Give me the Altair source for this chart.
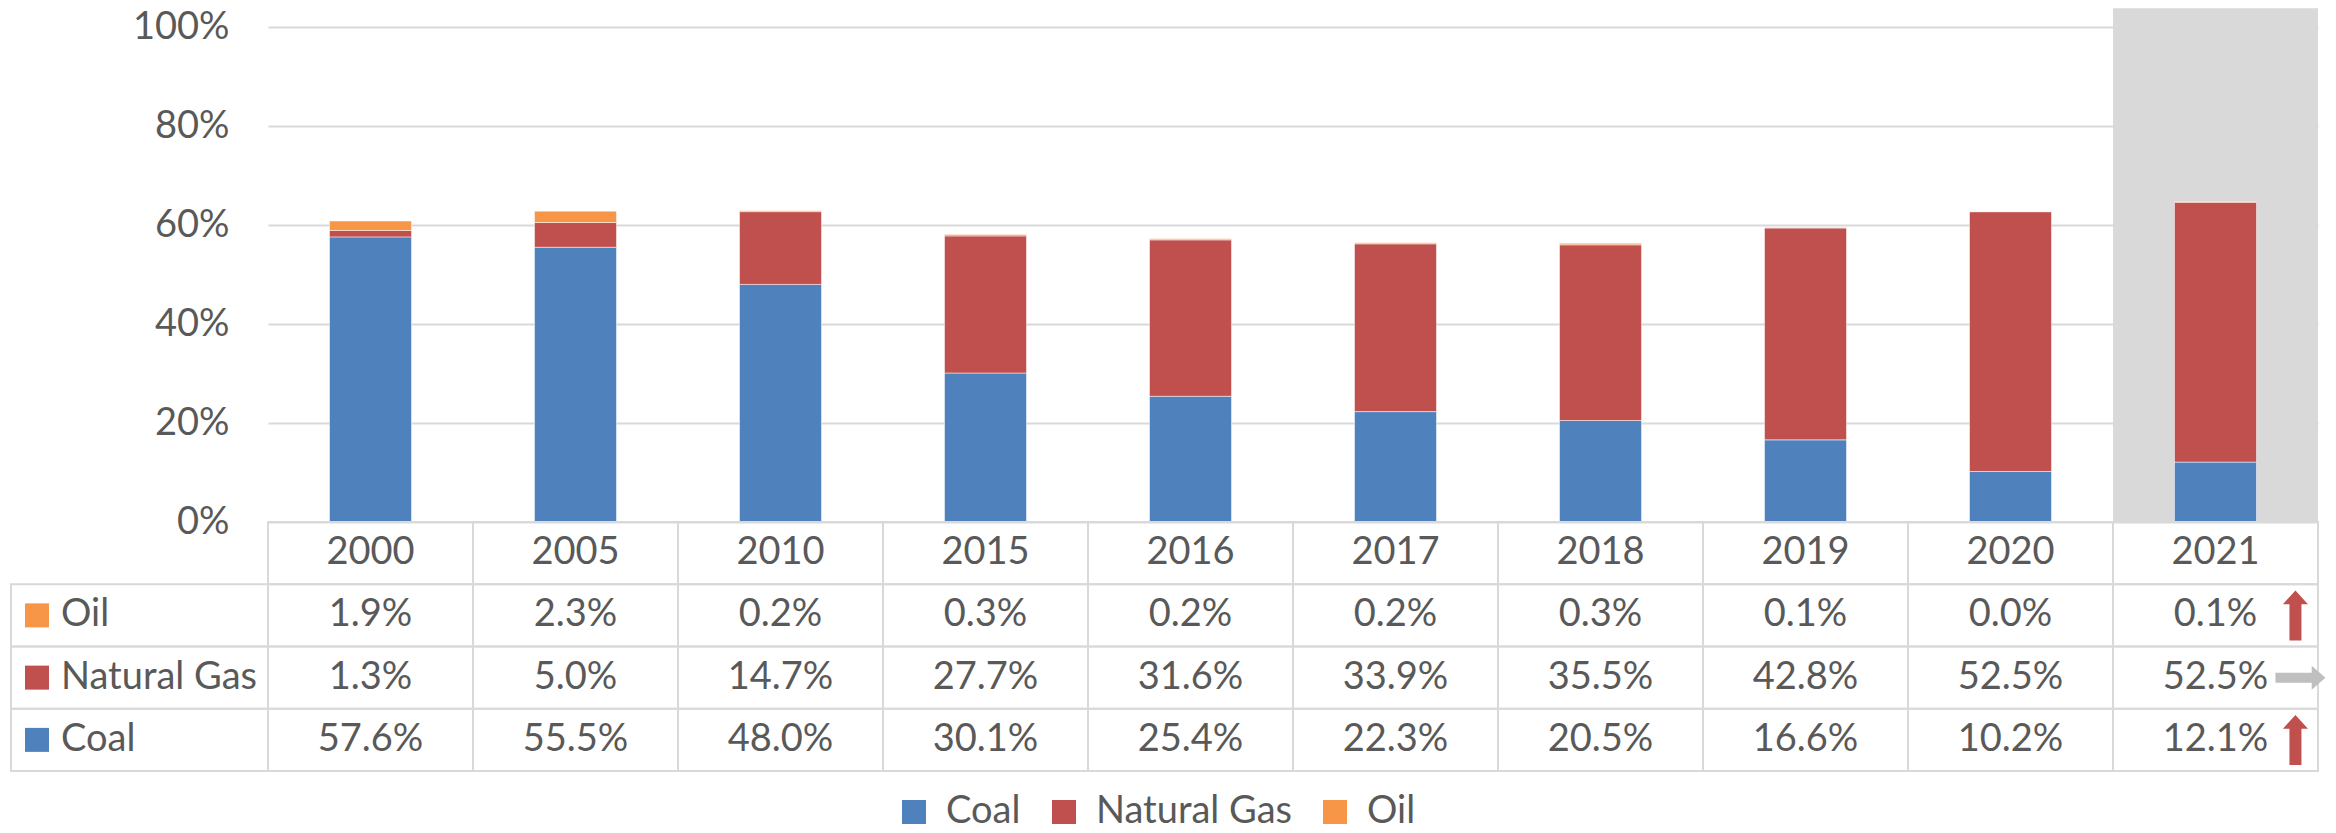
import altair as alt
import pandas as pd

# ---------------- data ----------------
years = ["2000", "2005", "2010", "2015", "2016", "2017", "2018", "2019", "2020", "2021"]
fuels = ["Coal", "Natural Gas", "Oil"]
coal = [57.6, 55.5, 48.0, 30.1, 25.4, 22.3, 20.5, 16.6, 10.2, 12.1]
natural_gas = [1.3, 5.0, 14.7, 27.7, 31.6, 33.9, 35.5, 42.8, 52.5, 52.5]
oil = [1.9, 2.3, 0.2, 0.3, 0.2, 0.2, 0.3, 0.1, 0.0, 0.1]
fuel_colors = ["#4f81bd", "#c0504d", "#f79646"]
table_rows = ["header", "Oil", "Natural Gas", "Coal"]
highlight_year = "2021"
y_ticks = [0, 0.2, 0.4, 0.6, 0.8, 1.0]

# ---------------- styles ----------------
W, H = 2050, 495
TABLE_H = 249
FONT = "Lato"
FS = 38
TXT = "#595959"
LINE = "#d9d9d9"
LABEL_COL = 257

series = {"Coal": coal, "Natural Gas": natural_gas, "Oil": oil}

rows = []
for fi, f in enumerate(fuels):
    for y, v in zip(years, series[f]):
        rows.append({"year": y, "fuel": f, "value": v / 100.0, "order": fi,
                     "text": f"{v:.1f}%"})
df = pd.DataFrame(rows)

# table cells
cell_rows = []
for y in years:
    cell_rows.append({"year": y, "row": "header", "text": y})
for f in ["Oil", "Natural Gas", "Coal"]:
    for y, v in zip(years, series[f]):
        cell_rows.append({"year": y, "row": f, "text": f"{v:.1f}%"})
cells_df = pd.DataFrame(cell_rows)

labels_df = pd.DataFrame({"row": ["Oil", "Natural Gas", "Coal"],
                          "fuel": ["Oil", "Natural Gas", "Coal"]})

# trend arrows (last year vs previous year)
arr = []
for f in ["Oil", "Natural Gas", "Coal"]:
    a, b = series[f][-2], series[f][-1]
    d = "up" if b > a else ("down" if b < a else "right")
    arr.append({"year": years[-1], "row": f, "dir": d})
arrows_df = pd.DataFrame(arr)

UP = "M -0.24 1 L 0.24 1 L 0.24 -0.45 L 0.5 -0.45 L 0 -1 L -0.5 -0.45 L -0.24 -0.45 Z"
DOWN = "M -0.24 -1 L 0.24 -1 L 0.24 0.45 L 0.5 0.45 L 0 1 L -0.5 0.45 L -0.24 0.45 Z"
RIGHT = "M -0.8 -0.2 L 0.65 -0.2 L 0.65 -0.48 L 1.2 0 L 0.65 0.48 L 0.65 0.2 L -0.8 0.2 Z"

xscale = alt.Scale(domain=years, paddingInner=0, paddingOuter=0)
xenc = alt.X("year:N", sort=years, scale=xscale, axis=None)
yrow = alt.Y("row:N", scale=alt.Scale(domain=table_rows, range=[H, H + TABLE_H],
                                      paddingInner=0, paddingOuter=0), axis=None)
color_scale = alt.Scale(domain=fuels, range=fuel_colors)

# ---------------- plot part ----------------
highlight = alt.Chart(pd.DataFrame({"year": [highlight_year]})).mark_rect(
    color="#d9d9d9"
).encode(x=xenc, y=alt.datum(0), y2=alt.datum(1.038))

bars = alt.Chart(df).mark_bar(
    width=alt.RelativeBandSize(0.4), stroke="white", strokeWidth=0.5
).encode(
    x=xenc,
    y=alt.Y("value:Q", stack="zero",
            scale=alt.Scale(domain=[0, 1], nice=False),
            axis=alt.Axis(values=y_ticks, format=".0%", title=None, grid=True,
                          gridColor=LINE, gridWidth=2, domain=False, ticks=False,
                          labelFont=FONT, labelFontSize=FS, labelColor=TXT,
                          labelPadding=39)),
    color=alt.Color("fuel:N", scale=color_scale,
                    legend=alt.Legend(orient="none", legendX=627, legendY=766,
                                      direction="horizontal", title=None,
                                      symbolType="square", symbolSize=576,
                                      symbolStrokeWidth=0, labelLimit=0,
                                      labelFont=FONT, labelFontSize=FS,
                                      labelColor=TXT, labelOffset=13,
                                      columnPadding=24, padding=0)),
    order=alt.Order("order:Q", sort="ascending"),
)

plot = alt.layer(highlight, bars)

# ---------------- table part ----------------
cell_boxes = alt.Chart(cells_df).mark_rect(
    fillOpacity=0, stroke=LINE, strokeWidth=2
).encode(x=xenc, y=yrow)

cell_text = alt.Chart(cells_df).mark_text(
    font=FONT, fontSize=FS, color=TXT
).encode(x=xenc, y=yrow, text="text:N")

label_boxes = alt.Chart(labels_df).mark_rect(
    fillOpacity=0, stroke=LINE, strokeWidth=2
).encode(x=alt.value(-LABEL_COL), x2=alt.value(0), y=yrow)

label_sq = alt.Chart(labels_df).mark_square(
    size=576, opacity=1, strokeWidth=0
).encode(x=alt.value(-LABEL_COL + 26), y=yrow,
         color=alt.Color("fuel:N", scale=color_scale))

label_text = alt.Chart(labels_df).mark_text(
    font=FONT, fontSize=FS, color=TXT, align="left"
).encode(x=alt.value(-LABEL_COL + 50), y=yrow, text="row:N")

arrows = alt.Chart(arrows_df).mark_point(
    filled=True, size=2500, opacity=1, strokeWidth=0
).encode(
    x=alt.X("year:N", sort=years, scale=xscale, axis=None, bandPosition=0.89),
    y=yrow,
    shape=alt.Shape("dir:N", scale=alt.Scale(domain=["up", "right", "down"],
                                             range=[UP, RIGHT, DOWN]), legend=None),
    fill=alt.Fill("dir:N", scale=alt.Scale(domain=["up", "right", "down"],
                                           range=["#c0504d", "#bfbfbf", "#c0504d"]),
                  legend=None),
)

table = alt.layer(cell_boxes, cell_text, label_boxes, label_sq, label_text, arrows)

chart = alt.layer(plot, table).resolve_scale(y="independent").properties(
    width=W, height=H,
    padding={"left": 2, "top": 0, "right": 0, "bottom": 0},
).configure_view(strokeWidth=0)

chart.save("out.html", embed_options={"renderer": "svg", "actions": False})
